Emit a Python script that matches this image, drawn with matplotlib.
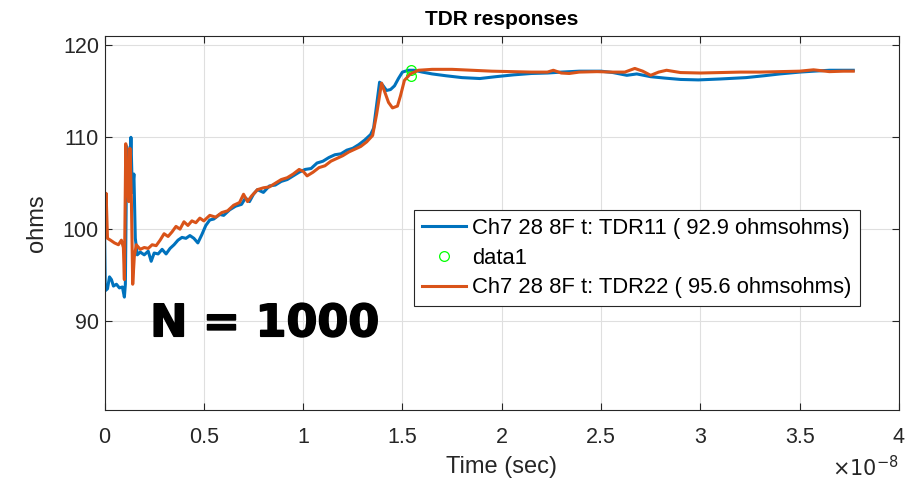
import matplotlib
matplotlib.use('Agg')
import matplotlib.pyplot as plt
import matplotlib.patheffects as pe
import numpy as np

plt.rcParams['font.family'] = ['Liberation Sans', 'DejaVu Sans']

# time in units of 1e-8 s
t_blue = [0.000, 0.004, 0.015, 0.025, 0.035, 0.045, 0.06, 0.075, 0.09, 0.10,
          0.105, 0.112, 0.118, 0.125, 0.133, 0.140, 0.148, 0.155, 0.165, 0.18,
          0.20, 0.22, 0.235, 0.25, 0.27, 0.29, 0.31, 0.33, 0.35, 0.37,
          0.39, 0.41, 0.43, 0.45, 0.47, 0.49, 0.51, 0.53, 0.55, 0.58,
          0.60, 0.63, 0.66, 0.69, 0.71, 0.73, 0.75, 0.77, 0.80, 0.83,
          0.86, 0.89, 0.92, 0.95, 0.98, 1.01, 1.04, 1.07, 1.10, 1.13,
          1.16, 1.19, 1.22, 1.25, 1.28, 1.31, 1.34, 1.355, 1.37, 1.385,
          1.40, 1.42, 1.44, 1.46, 1.48, 1.50, 1.53, 1.56, 1.60, 1.65,
          1.72, 1.80, 1.89, 1.97, 2.06, 2.15, 2.23, 2.30, 2.39, 2.50,
          2.56, 2.63, 2.68, 2.75, 2.82, 2.90, 2.99, 3.10, 3.23, 3.32,
          3.40, 3.50, 3.57, 3.65, 3.77]
z_blue = [100.0, 93.3, 93.5, 94.8, 94.5, 93.8, 94.0, 93.6, 93.7, 92.6,
          94.0, 109.0, 104.0, 103.5, 110.0, 104.0, 106.0, 99.0, 97.2, 97.5,
          97.2, 97.6, 96.5, 97.4, 97.3, 97.8, 97.3, 97.9, 98.3, 98.8,
          99.1, 99.0, 99.3, 99.0, 98.5, 99.4, 100.4, 101.0, 101.1, 101.6,
          101.5, 102.1, 102.5, 102.7, 103.4, 103.0, 103.8, 104.3, 104.0, 104.7,
          104.8, 105.2, 105.4, 105.8, 106.2, 106.5, 106.6, 107.2, 107.4, 107.8,
          108.1, 108.2, 108.6, 108.8, 109.2, 109.7, 110.3, 111.0, 113.5, 116.0,
          115.7, 115.1, 115.2, 115.6, 116.4, 117.1, 117.3, 117.3, 117.1, 116.9,
          116.7, 116.5, 116.4, 116.6, 116.8, 116.95, 117.0, 117.1, 117.2, 117.2,
          117.05, 116.75, 116.9, 116.6, 116.45, 116.3, 116.25, 116.35, 116.5, 116.7,
          116.9, 117.1, 117.2, 117.3, 117.3]

t_orange = [0.000, 0.008, 0.015, 0.03, 0.05, 0.07, 0.085, 0.095, 0.10, 0.107,
            0.115, 0.122, 0.128, 0.135, 0.142, 0.15, 0.16, 0.18, 0.20, 0.22,
            0.24, 0.26, 0.28, 0.30, 0.32, 0.34, 0.36, 0.38, 0.40, 0.42,
            0.44, 0.46, 0.48, 0.50, 0.53, 0.56, 0.59, 0.62, 0.65, 0.68,
            0.70, 0.72, 0.74, 0.77, 0.80, 0.83, 0.86, 0.89, 0.92, 0.95,
            0.98, 1.00, 1.02, 1.05, 1.08, 1.11, 1.14, 1.17, 1.20, 1.23,
            1.26, 1.29, 1.32, 1.35, 1.37, 1.395, 1.41, 1.43, 1.45, 1.475,
            1.49, 1.51, 1.54, 1.58, 1.65, 1.75, 1.85, 1.95, 2.05, 2.15,
            2.23, 2.26, 2.30, 2.34, 2.39, 2.48, 2.56, 2.62, 2.67, 2.71,
            2.75, 2.79, 2.83, 2.90, 3.00, 3.10, 3.20, 3.30, 3.40, 3.50,
            3.57, 3.65, 3.72, 3.77]
z_orange = [100.0, 103.9, 99.0, 98.8, 98.5, 98.3, 98.8, 98.0, 94.5, 109.3,
            104.5, 103.0, 108.8, 103.5, 94.0, 97.0, 98.3, 97.8, 98.0, 97.9,
            98.3, 98.2, 98.8, 99.5, 99.2, 99.7, 100.3, 100.0, 100.8, 100.4,
            100.9, 100.7, 101.2, 100.9, 101.5, 101.3, 101.8, 102.0, 102.6, 102.9,
            103.8, 103.0, 103.6, 104.3, 104.5, 104.6, 105.0, 105.4, 105.6, 106.0,
            106.5, 106.3, 105.8, 106.2, 106.7, 106.9, 107.4, 107.7, 108.0, 108.4,
            108.7, 109.0, 109.5, 110.2, 112.5, 115.9, 115.0, 113.8, 113.2, 113.4,
            114.5, 116.2, 116.9, 117.3, 117.4, 117.4, 117.3, 117.2, 117.15, 117.1,
            117.1, 117.3, 117.0, 116.95, 117.1, 117.15, 117.1, 117.1, 117.5, 117.2,
            116.75, 117.1, 117.3, 117.05, 117.0, 117.05, 117.1, 117.1, 117.15, 117.2,
            117.35, 117.15, 117.2, 117.2]

# green marker points (data1)
t_mark = [1.545, 1.545]
z_mark = [117.3, 116.7]

label_blue = 'Ch7 28 8F t: TDR11 ( 92.9 ohmsohms)'
label_orange = 'Ch7 28 8F t: TDR22 ( 95.6 ohmsohms)'

fig = plt.figure(figsize=(9.2, 4.87), dpi=100)
ax = fig.add_axes([0.1136, 0.158, 0.8635, 0.7675])

ax.plot(np.array(t_blue) * 1e-8, z_blue, color='#0072BD', lw=2.2, label=label_blue)
ax.plot(np.array(t_mark) * 1e-8, z_mark, 'o', mfc='none', mec='#00FF00', ms=7, mew=0.9,
        label='data1')
ax.plot(np.array(t_orange) * 1e-8, z_orange, color='#D95319', lw=2.2, label=label_orange)

ax.set_xlim(0, 4e-8)
ax.set_ylim(80.3, 121)
ax.set_xticks(np.arange(0, 4.01, 0.5) * 1e-8)
ax.set_xticklabels(['0', '0.5', '1', '1.5', '2', '2.5', '3', '3.5', '4'])
ax.set_yticks([90, 100, 110, 120])
ax.grid(True, color='#DFDFDF', lw=0.8)
ax.set_axisbelow(True)
ax.tick_params(labelsize=15.5, colors='#262626', direction='in', length=5, width=0.8,
               top=True, right=True)
ax.tick_params(axis='x', pad=12)
ax.tick_params(axis='y', pad=4)
for s in ax.spines.values():
    s.set_color('#262626')
    s.set_linewidth(0.8)

ax.set_title('TDR responses', fontsize=15, fontweight='bold', pad=8)
ax.set_xlabel('Time (sec)', fontsize=17, color='#262626', labelpad=6)
ax.set_ylabel('ohms', fontsize=17, color='#262626', labelpad=11)
ax.text(1.0, -0.12, r'$\times10^{-8}$', transform=ax.transAxes, ha='right', va='top',
        fontsize=15, color='#262626')

ax.text(0.23e-8, 89.7, 'N = 1000', fontsize=32, fontweight='bold', color='black',
        family='DejaVu Sans', va='center', ha='left',
        path_effects=[pe.withStroke(linewidth=1.2, foreground='black')])

leg = ax.legend(loc='upper left', bbox_to_anchor=(0.39, 0.535), fontsize=15.8,
                frameon=True, fancybox=False, edgecolor='#262626', framealpha=1,
                handlelength=2.0, handletextpad=0.3, borderpad=0.35, labelspacing=0.4,
                borderaxespad=0)
leg.get_frame().set_linewidth(0.8)

fig.savefig('out.png', dpi=100)
